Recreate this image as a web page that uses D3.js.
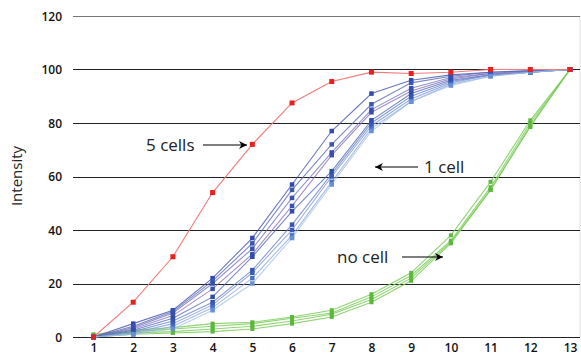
<!DOCTYPE html>
<html><head><meta charset="utf-8">
<script src="https://cdn.jsdelivr.net/npm/d3@7"></script>
<style>body{margin:0;background:#fff}svg{display:block}</style>
</head><body>
<script>
const xs = [1,2,3,4,5,6,7,8,9,10,11,12,13];
const yTicks = [0,20,40,60,80,100,120];
const fiveCells = [0,13,30,54,72,87.5,95.5,99,98.5,99,100,100,100];
const oneCell = [
  [0,5,10,22,37,57,77,91,96,98,99,99.5,100],
  [0,4,9.5,21,35,55,72,87,95,97.5,99,99.5,100],
  [0,3.5,9,20,33,52,69,85,93,97,98.5,99.5,100],
  [0,3,8,18,31,49,68,84,92,96.5,98.5,99,100],
  [0,2.5,7,15,30,47,62,81,91,96,98,99,100],
  [0,2,6,13,25,42,61,80,90,95.5,98,99,100],
  [0,1.5,5,12,24,40,60,79,89,95,98,99,100],
  [0,1,4,11,22,38,58,78,88,94.5,97.5,99,100],
  [0,1,3,10,20,37,57,77,88,94,97.5,99,100]
];
const noCell = [
  [1,2.5,3.5,5,5.5,7.5,10,16,24,38,58,81,100],
  [0.5,2,3,4,5,7,9,15,23,36,56,80,100],
  [0.5,1.5,2,3,4,6,8.5,14,22,35.5,55,79,100],
  [0,1,1.5,2,3,5,7.5,13,21,35,55,78.5,100]
];
const blueLineColors = ["#3b4aa8","#5560b0","#6a72c0","#8a6cb8","#4a64b8","#5f7cc8","#7a92d4","#8aa6dc","#9cc0ea"];
const blueMarkColors = ["#2f4aa8","#3a56b0","#3550ae","#3a50ae","#2f4ca8","#3552b0","#3a5cb8","#4a70c4","#6a90d4"];
const annotations = [
  {text:"5 cells", tx:146, ty:151, x1:203, x2:247, y:145},
  {text:"1 cell", tx:424, ty:173, x1:418, x2:375, y:167},
  {text:"no cell", tx:337, ty:263, x1:402, x2:443, y:257}
];

const W=581,H=358;
const svg=d3.select("body").append("svg").attr("width",W).attr("height",H);
const x=d3.scaleLinear().domain([1,13]).range([93.5,570]);
const y=d3.scaleLinear().domain([0,120]).range([337,16]);
const gx0=73, gx1=580;

svg.append("line").attr("x1",gx1).attr("x2",gx1).attr("y1",16).attr("y2",337).attr("stroke","#ddd").attr("stroke-width",1);
svg.selectAll("line.grid").data(yTicks).join("line").attr("class","grid")
  .attr("x1",gx0).attr("x2",gx1).attr("y1",d=>Math.round(y(d))+0.5).attr("y2",d=>Math.round(y(d))+0.5)
  .attr("stroke",d=>d===120?"#777":"#222").attr("stroke-width",1);

const yAxis=d3.axisLeft(y).tickValues(yTicks).tickSize(0).tickPadding(0);
const ga=svg.append("g").attr("transform","translate(62,0)").call(yAxis);
ga.select(".domain").remove();
ga.selectAll("text").attr("font-family","'Open Sans',sans-serif").attr("font-weight",600).attr("font-size",12).attr("fill","#111").attr("dy","0.35em");

const xAxis=d3.axisBottom(x).tickValues(xs).tickFormat(d3.format("d")).tickSize(0).tickPadding(0);
const gb=svg.append("g").attr("transform","translate(0,344)").call(xAxis);
gb.select(".domain").remove();
gb.selectAll("text").attr("font-family","'Open Sans',sans-serif").attr("font-weight",600).attr("font-size",12).attr("fill","#111").attr("dy","0.7em");

svg.append("text").attr("transform","translate(22,176) rotate(-90)").attr("text-anchor","middle")
  .attr("font-family","'Open Sans',sans-serif").attr("font-size",15).attr("fill","#222").text("Intensity");

const line=d3.line().x((d,i)=>x(xs[i])).y(d=>y(d));

function series(vals, lc, mc, op, ms){
  svg.append("path").attr("d",line(vals)).attr("fill","none").attr("stroke",lc).attr("stroke-width",1.1).attr("stroke-opacity",op);
  svg.append("g").selectAll("rect").data(vals).join("rect")
    .attr("x",(d,i)=>x(xs[i])-ms/2).attr("y",d=>y(d)-ms/2).attr("width",ms).attr("height",ms).attr("fill",mc);
}
noCell.forEach(v=>series(v,"#7ccc5c","#5cb83c",0.85,4));
oneCell.forEach((v,i)=>series(v,blueLineColors[i],blueMarkColors[i],0.75,4.5));
series(fiveCells,"#f47a7a","#e8201e",1,5);

const defs=svg.append("defs");
defs.append("marker").attr("id","ah").attr("viewBox","0 0 10 10").attr("refX",10).attr("refY",5)
  .attr("markerWidth",10).attr("markerHeight",8).attr("markerUnits","userSpaceOnUse").attr("orient","auto")
  .append("path").attr("d","M0,0 L10,5 L0,10 L3,5 Z").attr("fill","#000");

annotations.forEach(a=>{
  svg.append("text").attr("x",a.tx).attr("y",a.ty).attr("font-family","'Open Sans',sans-serif").attr("font-size",17).attr("fill","#222").text(a.text);
  svg.append("line").attr("x1",a.x1).attr("x2",a.x2).attr("y1",a.y).attr("y2",a.y).attr("stroke","#000").attr("stroke-width",1.2).attr("marker-end","url(#ah)");
});
</script>
</body></html>
